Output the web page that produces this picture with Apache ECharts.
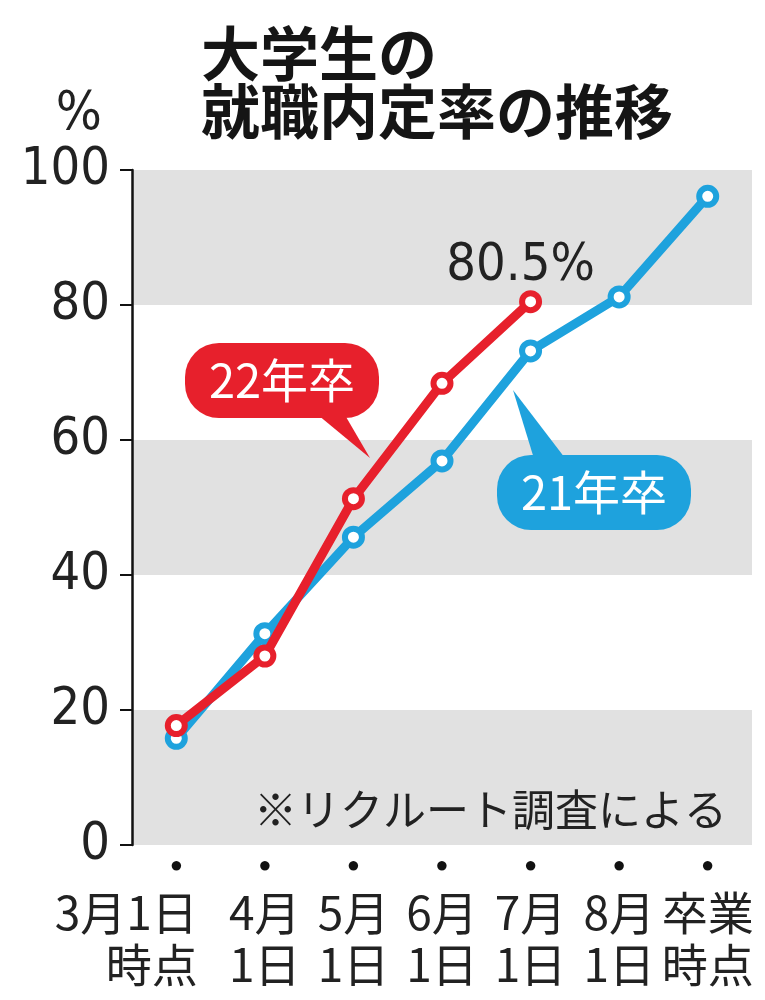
<!DOCTYPE html>
<html>
<head>
<meta charset="utf-8">
<script src="https://cdn.jsdelivr.net/npm/echarts@6/dist/echarts.min.js"></script>
<style>
html, body { margin: 0; padding: 0; background: #fff; }
#main { width: 765px; height: 1000px; }
</style>
</head>
<body>
<div id="main"></div>
<script>
// 大学生の就職内定率の推移
var categories = ['3月1日\n時点', '4月\n1日', '5月\n1日', '6月\n1日', '7月\n1日', '8月\n1日', '卒業\n時点'];
var grad21 = [15.8, 31.3, 45.6, 56.9, 73.2, 81.2, 96.1];
var grad22 = [17.7, 28.0, 51.3, 68.4, 80.5];
var yTicks = [0, 20, 40, 60, 80, 100];

var numFont = "'DejaVu Sans Condensed', 'Liberation Sans Narrow', 'Liberation Sans', sans-serif";
var jpFont = "'Noto Sans CJK JP', sans-serif";
var red = '#e7202c';
var blue = '#1ea2dd';

var myChart = echarts.init(document.getElementById('main'));

var data22 = grad22.map(function (v, i) {
    if (i === grad22.length - 1) {
        return {
            value: v,
            label: {
                show: true,
                position: 'top',
                distance: 0,
                offset: [-10, 2],
                formatter: v.toFixed(1) + '%',
                fontFamily: numFont,
                fontSize: 52,
                color: '#222'
            }
        };
    }
    return v;
});

var option = {
    animation: false,
    backgroundColor: '#fff',
    title: {
        text: '大学生の\n就職内定率の推移',
        left: 196,
        top: 20,
        textStyle: {
            fontFamily: jpFont,
            fontSize: 59,
            fontWeight: 'bold',
            lineHeight: 58,
            color: '#151515'
        }
    },
    grid: {
        left: 132,
        right: 13,
        top: 170,
        bottom: 155
    },
    xAxis: [
        {
            type: 'category',
            data: categories,
            boundaryGap: true,
            axisLine: { show: false },
            axisTick: { show: false },
            axisLabel: {
                interval: 0,
                margin: 42,
                formatter: function (v, i) {
                    var p = v.split('\n');
                    var s = i === 0 ? 'f' : 'a';
                    return '{' + s + '|' + p[0] + '}\n{' + s + '|' + p[1] + '}';
                },
                rich: {
                    a: { fontFamily: jpFont, fontSize: 46, lineHeight: 52, color: '#222' },
                    f: { fontFamily: jpFont, fontSize: 46, lineHeight: 52, color: '#222',
                         align: 'right', padding: [0, 100, 0, 0] }
                }
            }
        },
        {
            type: 'category',
            data: categories,
            position: 'bottom',
            boundaryGap: true,
            axisLine: { show: false },
            axisTick: { show: false },
            axisLabel: {
                interval: 0,
                margin: 10,
                formatter: function () { return '●'; },
                fontSize: 22,
                color: '#111'
            }
        }
    ],
    yAxis: {
        type: 'value',
        min: yTicks[0],
        max: yTicks[yTicks.length - 1],
        interval: 20,
        name: '%',
        nameLocation: 'end',
        nameGap: 28,
        nameTextStyle: {
            fontFamily: numFont,
            fontSize: 54,
            color: '#222',
            align: 'right',
            padding: [0, 30, 0, 0]
        },
        axisLine: { show: true, lineStyle: { color: '#111', width: 2.5 } },
        axisTick: { show: true, length: 12, lineStyle: { color: '#111', width: 2 } },
        axisLabel: {
            margin: 22,
            fontFamily: numFont,
            fontSize: 52,
            color: '#222'
        },
        splitLine: { show: false },
        splitArea: {
            show: true,
            areaStyle: { color: ['#e1e1e1', '#ffffff'] }
        }
    },
    graphic: {
        elements: [
            { type: 'polygon', z: 100, shape: { points: [[312, 410], [342, 410], [370, 458]] },
              style: { fill: red } },
            { type: 'rect', z: 100, shape: { x: 185, y: 343, width: 194, height: 75, r: 34 },
              style: { fill: red } },
            { type: 'text', z: 101, x: 282, y: 380,
              style: { text: '22年卒', fill: '#fff', font: '47px ' + jpFont,
                       textAlign: 'center', textVerticalAlign: 'middle' } },
            { type: 'polygon', z: 100, shape: { points: [[535, 462], [568, 462], [513, 390]] },
              style: { fill: blue } },
            { type: 'rect', z: 100, shape: { x: 497, y: 455, width: 194, height: 75, r: 34 },
              style: { fill: blue } },
            { type: 'text', z: 101, x: 594, y: 492,
              style: { text: '21年卒', fill: '#fff', font: '47px ' + jpFont,
                       textAlign: 'center', textVerticalAlign: 'middle' } },
            { type: 'text', z: 101, x: 727, y: 810,
              style: { text: '※リクルート調査による', fill: '#222', font: '43px ' + jpFont,
                       textAlign: 'right', textVerticalAlign: 'middle' } }
        ]
    },
    series: [
        {
            name: '21年卒',
            type: 'line',
            data: grad21,
            z: 3,
            symbol: 'circle',
            symbolSize: 17,
            lineStyle: { color: blue, width: 9 },
            itemStyle: { color: '#fff', borderColor: blue, borderWidth: 6 }
        },
        {
            name: '22年卒',
            type: 'line',
            data: data22,
            z: 4,
            symbol: 'circle',
            symbolSize: 17,
            lineStyle: { color: red, width: 9 },
            itemStyle: { color: '#fff', borderColor: red, borderWidth: 6 }
        }
    ]
};

myChart.setOption(option);
</script>
</body>
</html>
